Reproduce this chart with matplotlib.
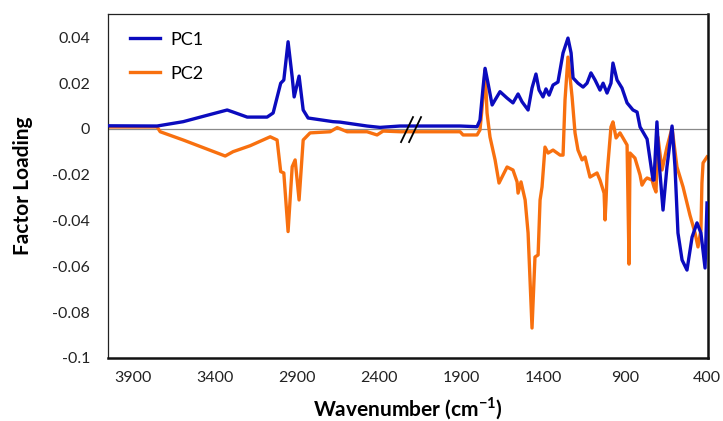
import matplotlib
matplotlib.use("Agg")
import matplotlib.pyplot as plt

plt.rcParams['font.family'] = ['Lato', 'DejaVu Sans']
plt.rcParams['mathtext.fontset'] = 'custom'
plt.rcParams['mathtext.rm'] = 'Lato'
plt.rcParams['mathtext.bf'] = 'Lato:bold'

# PC1 (wavenumber, loading)
pc1_wn = [4050, 3751, 3592, 3440, 3324, 3288, 3202, 3081, 3044, 2998, 2979, 2953, 2928, 2916, 2886,
          2861, 2831, 2679, 2636, 2472, 2393, 2271, 1905, 1802, 1784, 1765, 1753, 1735, 1710, 1692,
          1662, 1619, 1583, 1552, 1528, 1491, 1467, 1443, 1424, 1400, 1382, 1363, 1339, 1309, 1278,
          1248, 1229, 1217, 1187, 1156, 1132, 1108, 1083, 1053, 1034, 1010, 986, 974, 949, 919, 888,
          852, 827, 809, 766, 730, 724, 706, 694, 669, 645, 614, 596, 578, 553, 523, 492, 462, 438,
          413, 401]
pc1_val = [0.0014, 0.0013, 0.0032, 0.0061, 0.0083, 0.0074, 0.0052, 0.0052, 0.0070, 0.0200, 0.0214,
           0.0381, 0.0227, 0.0140, 0.0231, 0.0083, 0.0048, 0.0032, 0.0030, 0.0013, 0.0007, 0.0013,
           0.0013, 0.0010, 0.0039, 0.0183, 0.0265, 0.0200, 0.0105, 0.0127, 0.0163, 0.0135, 0.0114,
           0.0153, 0.0119, 0.0083, 0.0179, 0.0240, 0.0170, 0.0140, 0.0175, 0.0148, 0.0192, 0.0205,
           0.0332, 0.0397, 0.0332, 0.0223, 0.0200, 0.0183, 0.0200, 0.0245, 0.0214, 0.0170, 0.0200,
           0.0157, 0.0200, 0.0288, 0.0214, 0.0179, 0.0114, 0.0083, 0.0074, 0.0009, -0.0044, -0.0223,
           -0.0223, 0.0031, -0.0135, -0.0354, -0.0166, 0.0013, -0.0166, -0.0454, -0.0572, -0.0616,
           -0.0472, -0.0410, -0.0454, -0.0607, -0.0323]

# PC2 (wavenumber, loading)
pc2_wn = [4050, 3751, 3732, 3592, 3336, 3288, 3184, 3062, 3020, 2998, 2979, 2953, 2928, 2910, 2886,
          2861, 2819, 2697, 2654, 2593, 2472, 2411, 2374, 2271, 1905, 1887, 1802, 1784, 1765, 1753,
          1741, 1723, 1692, 1668, 1619, 1583, 1558, 1552, 1534, 1509, 1491, 1467, 1449, 1430, 1418,
          1406, 1388, 1369, 1339, 1296, 1278, 1266, 1248, 1223, 1205, 1187, 1162, 1144, 1114, 1071,
          1053, 1028, 1022, 1016, 1010, 1004, 986, 974, 955, 931, 913, 888, 876, 870, 840, 809, 797,
          779, 766, 736, 724, 712, 700, 675, 645, 614, 584, 547, 505, 474, 456, 438, 432, 425, 413,
          401]
pc2_val = [0.0009, 0.0009, -0.0012, -0.0048, -0.0118, -0.0099, -0.0073, -0.0034, -0.0048, -0.0186,
           -0.0192, -0.0448, -0.0165, -0.0135, -0.0310, -0.0048, -0.0017, -0.0012, 0.0006, -0.0012,
           -0.0012, -0.0026, -0.0009, -0.0012, -0.0012, -0.0026, -0.0026, -0.0004, 0.0140, 0.0258,
           0.0070, -0.0035, -0.0135, -0.0236, -0.0166, -0.0179, -0.0231, -0.0280, -0.0231, -0.0310,
           -0.0454, -0.0869, -0.0559, -0.0550, -0.0310, -0.0253, -0.0079, -0.0105, -0.0092, -0.0114,
           -0.0114, 0.0127, 0.0314, 0.0140, -0.0017, -0.0092, -0.0135, -0.0122, -0.0210, -0.0192,
           -0.0223, -0.0280, -0.0397, -0.0310, -0.0200, -0.0148, 0.0009, 0.0031, -0.0039, -0.0017,
           -0.0039, -0.0070, -0.0590, -0.0105, -0.0127, -0.0201, -0.0245, -0.0223, -0.0214, -0.0223,
           -0.0253, -0.0275, -0.0035, -0.0179, -0.0079, 0.0004, -0.0166, -0.0253, -0.0376, -0.0454,
           -0.0515, -0.0441, -0.0236, -0.0148, -0.0135, -0.0122]

x_ticks = [3900, 3400, 2900, 2400, 1900, 1400, 900, 400]
y_ticks = [-0.1, -0.08, -0.06, -0.04, -0.02, 0, 0.02, 0.04]
y_tick_labels = ['-0.1', '-0.08', '-0.06', '-0.04', '-0.02', '0', '0.02', '0.04']
series_names = ['PC1', 'PC2']

BLUE = '#0B0BBE'
ORANGE = '#F8700F'

fig = plt.figure(figsize=(7.23, 4.21), dpi=100)
ax = fig.add_axes([108/723, 1 - 358/421, 600/723, 343.5/421])

ax.axhline(0, color='#8a8a8a', lw=0.9, zorder=1)
ax.plot(pc1_wn, pc1_val, color=BLUE, lw=2.4, label=series_names[0], zorder=3,
        solid_joinstyle='round')
ax.plot(pc2_wn, pc2_val, color=ORANGE, lw=2.4, label=series_names[1], zorder=2,
        solid_joinstyle='round')

ax.set_xlim(4050, 395)
ax.set_ylim(-0.1, 0.05)
ax.set_xticks(x_ticks)
ax.set_xticklabels([str(t) for t in x_ticks])
ax.set_yticks(y_ticks)
ax.set_yticklabels(y_tick_labels)
ax.tick_params(axis='both', length=0, labelsize=11.5, colors='#222222')
ax.tick_params(axis='y', pad=13)
ax.tick_params(axis='x', pad=9)

for s in ['left', 'top']:
    ax.spines[s].set_linewidth(0.9)
    ax.spines[s].set_color('#222222')
for s in ['right', 'bottom']:
    ax.spines[s].set_linewidth(1.8)
    ax.spines[s].set_color('#111111')

# axis break marks
for x0, x1 in [(2265, 2192), (2216, 2143)]:
    ax.plot([x0, x1], [-0.0057, 0.0052], color='black', lw=1.3, zorder=4)

ax.set_xlabel(r'Wavenumber (cm$^{\mathbf{-1}}$)', fontsize=15, fontweight='bold', labelpad=8)
ax.set_ylabel('Factor Loading', fontsize=15, fontweight='bold', labelpad=14)

leg = ax.legend(loc='upper left', bbox_to_anchor=(0.036, 0.950), frameon=False,
                fontsize=13, handlelength=1.7, handletextpad=0.55, labelspacing=1.0,
                borderpad=0, borderaxespad=0)

fig.savefig('out.png', dpi=100)
